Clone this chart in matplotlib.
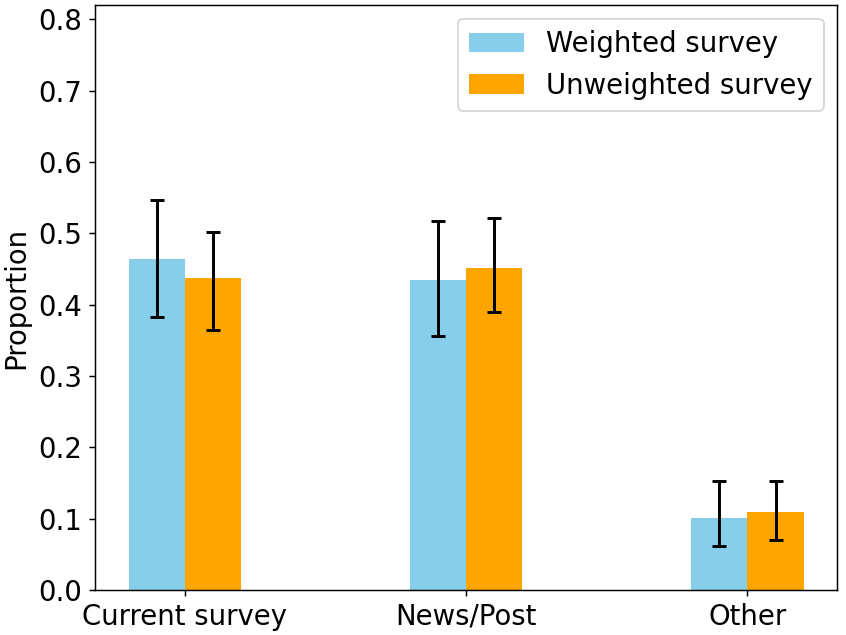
import matplotlib
matplotlib.use("Agg")
import matplotlib.pyplot as plt
import numpy as np

categories = ["Current survey", "News/Post", "Other"]
weighted = [0.464, 0.434, 0.101]
weighted_lo = [0.383, 0.356, 0.061]
weighted_hi = [0.546, 0.517, 0.153]
unweighted = [0.438, 0.452, 0.109]
unweighted_lo = [0.364, 0.389, 0.070]
unweighted_hi = [0.502, 0.521, 0.153]

fig, ax = plt.subplots(figsize=(6.4, 4.8), dpi=132.3)
x = np.arange(len(categories))
w = 0.2

werr = [np.array(weighted) - np.array(weighted_lo), np.array(weighted_hi) - np.array(weighted)]
uerr = [np.array(unweighted) - np.array(unweighted_lo), np.array(unweighted_hi) - np.array(unweighted)]

ax.bar(x - w/2, weighted, w, yerr=werr, color="skyblue", label="Weighted survey",
       capsize=4, error_kw=dict(elinewidth=1.6, capthick=1.6))
ax.bar(x + w/2, unweighted, w, yerr=uerr, color="orange", label="Unweighted survey",
       capsize=4, error_kw=dict(elinewidth=1.6, capthick=1.6))

ax.set_xticks(x)
ax.set_xticklabels(categories, fontsize=15)
ax.tick_params(axis="y", labelsize=15)
ax.set_ylabel("Proportion", fontsize=15)
ax.set_ylim(0, 0.82)
ax.legend(fontsize=15, loc="upper right")
fig.subplots_adjust(left=0.112, right=0.989, bottom=0.071, top=0.992)
fig.savefig("out.png")
